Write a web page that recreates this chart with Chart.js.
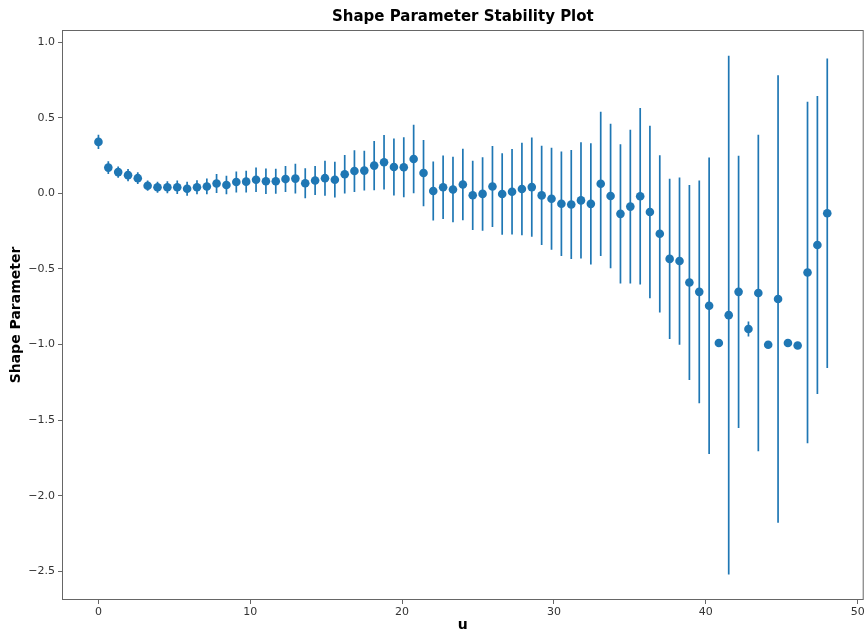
<!DOCTYPE html>
<html>
<head>
<meta charset="utf-8">
<title>Shape Parameter Stability Plot</title>
<script src="https://cdn.jsdelivr.net/npm/chart.js@4.4.0/dist/chart.umd.min.js"></script>
<style>
  html, body { margin: 0; padding: 0; background: #ffffff; }
  #wrap { width: 868px; height: 634px; }
</style>
</head>
<body>
<div id="wrap"><canvas id="stability-chart" width="868" height="634"></canvas></div>
<script>
// Threshold values u (x axis)
var uValues = [
  0, 0.65, 1.30, 1.95, 2.59, 3.24, 3.89, 4.54, 5.19, 5.84,
  6.49, 7.14, 7.78, 8.43, 9.08, 9.73, 10.38, 11.03, 11.68, 12.32,
  12.97, 13.62, 14.27, 14.92, 15.57, 16.22, 16.86, 17.51, 18.16, 18.81,
  19.46, 20.11, 20.76, 21.41, 22.05, 22.70, 23.35, 24.00, 24.65, 25.30,
  25.95, 26.59, 27.24, 27.89, 28.54, 29.19, 29.84, 30.49, 31.14, 31.78,
  32.43, 33.08, 33.73, 34.38, 35.03, 35.68, 36.32, 36.97, 37.62, 38.27,
  38.92, 39.57, 40.22, 40.86, 41.51, 42.16, 42.81, 43.46, 44.11, 44.76,
  45.41, 46.05, 46.70, 47.35, 48.00
];

// Estimated shape parameter at each threshold
var shapeValues = [
  0.34, 0.17, 0.14, 0.12, 0.10, 0.05, 0.04, 0.04, 0.04, 0.03,
  0.04, 0.045, 0.065, 0.055, 0.075, 0.077, 0.09, 0.08, 0.08, 0.094,
  0.097, 0.066, 0.085, 0.10, 0.09, 0.126, 0.147, 0.15, 0.183, 0.205,
  0.174, 0.172, 0.227, 0.134, 0.015, 0.04, 0.025, 0.058, -0.013, -0.004,
  0.045, -0.005, 0.01, 0.028, 0.041, -0.014, -0.036, -0.069, -0.074, -0.047,
  -0.07, 0.063, -0.018, -0.136, -0.088, -0.02, -0.124, -0.268, -0.434, -0.448,
  -0.59, -0.652, -0.744, -0.99, -0.806, -0.652, -0.898, -0.659, -1.002, -0.699,
  -0.99, -1.007, -0.524, -0.342, -0.132
];

// Half length of each error bar
var shapeErrors = [
  0.047, 0.042, 0.037, 0.04, 0.039, 0.034, 0.036, 0.04, 0.044, 0.046,
  0.047, 0.052, 0.063, 0.061, 0.069, 0.072, 0.081, 0.084, 0.083, 0.086,
  0.099, 0.099, 0.096, 0.116, 0.118, 0.127, 0.138, 0.131, 0.163, 0.18,
  0.188, 0.199, 0.227, 0.219, 0.195, 0.21, 0.217, 0.236, 0.229, 0.243,
  0.268, 0.27, 0.283, 0.306, 0.328, 0.328, 0.337, 0.346, 0.361, 0.385,
  0.401, 0.477, 0.478, 0.46, 0.509, 0.584, 0.57, 0.52, 0.53, 0.553,
  0.645, 0.737, 0.98, 0.01, 1.715, 0.9, 0.05, 1.047, 0.005, 1.48,
  0.005, 0.005, 1.13, 0.985, 1.023
];

// Tick labels
var xTickValues = [0, 10, 20, 30, 40, 50];
var yTickValues = [-2.5, -2.0, -1.5, -1.0, -0.5, 0.0, 0.5, 1.0];

var blue = "#1f77b4";
var tickFont = { family: "DejaVu Sans", size: 11 };

// Error bars are drawn under the markers, using the chart scales
var errorBarPlugin = {
  id: "errorBars",
  beforeDatasetsDraw: function(chart) {
    var ctx = chart.ctx;
    var xs = chart.scales.x;
    var ys = chart.scales.y;
    var area = chart.chartArea;
    ctx.save();
    ctx.beginPath();
    ctx.rect(area.left, area.top, area.right - area.left, area.bottom - area.top);
    ctx.clip();
    ctx.strokeStyle = blue;
    ctx.lineWidth = 1.7;
    for (var i = 0; i < uValues.length; i++) {
      var px = xs.getPixelForValue(uValues[i]);
      ctx.beginPath();
      ctx.moveTo(px, ys.getPixelForValue(shapeValues[i] - shapeErrors[i]));
      ctx.lineTo(px, ys.getPixelForValue(shapeValues[i] + shapeErrors[i]));
      ctx.stroke();
    }
    ctx.restore();
  }
};

// Box around the plot area (all four spines)
var framePlugin = {
  id: "frame",
  afterDraw: function(chart) {
    var ctx = chart.ctx;
    var a = chart.chartArea;
    ctx.save();
    ctx.strokeStyle = "#666666";
    ctx.lineWidth = 1;
    ctx.strokeRect(a.left + 0.5, a.top + 0.5, a.right - a.left - 1, a.bottom - a.top - 1);
    ctx.restore();
  }
};

var points = uValues.map(function(u, i) {
  return { x: u, y: shapeValues[i] };
});

var ctx = document.getElementById("stability-chart").getContext("2d");
var myChart = new Chart(ctx, {
  type: "scatter",
  data: {
    datasets: [
      {
        data: points,
        backgroundColor: blue,
        borderColor: blue,
        borderWidth: 0,
        pointRadius: 4.3,
        pointHoverRadius: 4.3,
        showLine: false,
      },
    ],
  },
  options: {
    responsive: false,
    animation: false,
    layout: {
      padding: { left: 5, right: 3, top: 0, bottom: 0 },
    },
    plugins: {
      legend: { display: false },
      tooltip: { enabled: false },
      title: {
        display: true,
        text: "Shape Parameter Stability Plot",
        fullSize: false,
        color: "#000000",
        font: { family: "DejaVu Sans", size: 15, weight: "bold" },
        padding: { top: 8, bottom: 4 },
      },
    },
    scales: {
      x: {
        type: "linear",
        min: -2.4,
        max: 50.4,
        afterBuildTicks: function(axis) {
          axis.ticks = xTickValues.map(function(v) { return { value: v }; });
        },
        afterFit: function(scale) {
          scale.height = 34;
        },
        ticks: {
          color: "#333333",
          font: tickFont,
          padding: 2,
          maxRotation: 0,
          callback: function(value) { return String(value); },
        },
        grid: {
          display: true,
          drawOnChartArea: false,
          drawTicks: true,
          tickLength: 4,
          tickColor: "#666666",
        },
        border: { display: false },
        title: {
          display: true,
          text: "u",
          color: "#000000",
          font: { family: "DejaVu Sans", size: 14, weight: "bold" },
          padding: { top: 0, bottom: 0 },
        },
      },
      y: {
        type: "linear",
        min: -2.69,
        max: 1.08,
        afterBuildTicks: function(axis) {
          axis.ticks = yTickValues.map(function(v) { return { value: v }; });
        },
        afterFit: function(scale) {
          scale.width = 57;
        },
        ticks: {
          color: "#333333",
          font: tickFont,
          padding: 3,
          callback: function(value) {
            return value.toFixed(1).replace("-", "\u2212");
          },
        },
        grid: {
          display: true,
          drawOnChartArea: false,
          drawTicks: true,
          tickLength: 4,
          tickColor: "#666666",
        },
        border: { display: false },
        title: {
          display: true,
          text: "Shape Parameter",
          color: "#000000",
          font: { family: "DejaVu Sans", size: 14, weight: "bold" },
          padding: { top: 3, bottom: 0 },
        },
      },
    },
  },
  plugins: [errorBarPlugin, framePlugin],
});
</script>
</body>
</html>
